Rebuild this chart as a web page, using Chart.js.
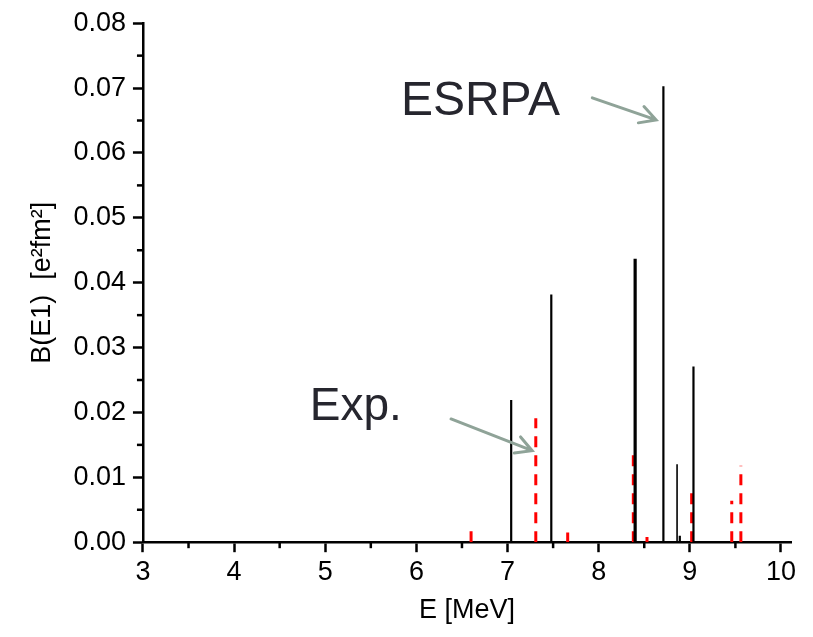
<!DOCTYPE html>
<html>
<head>
<meta charset="utf-8">
<script src="https://cdn.jsdelivr.net/npm/chart.js@4.4.0/dist/chart.umd.min.js"></script>
<style>
  html, body { margin: 0; padding: 0; background: #fff; }
  #wrap { width: 813px; height: 637px; }
</style>
</head>
<body>
<div id="wrap"><canvas id="myChart" width="813" height="637"></canvas></div>
<script>
// ESRPA sticks (black)
const esrpaE = [7.04, 7.48, 8.40, 8.71, 8.86, 8.89, 9.04];
const esrpaB = [0.0219, 0.0382, 0.0437, 0.0703, 0.0120, 0.0010, 0.0271];
// Exp. sticks (red dashed)
const expE = [6.60, 7.31, 7.66, 8.38, 8.53, 9.02, 9.46, 9.56];
const expB = [0.0027, 0.0191, 0.0015, 0.0141, 0.0008, 0.0077, 0.0064, 0.0118];
const xTicks = [3, 4, 5, 6, 7, 8, 9, 10];
const yTicks = [0, 0.01, 0.02, 0.03, 0.04, 0.05, 0.06, 0.07, 0.08];

const FONT = "'Liberation Sans', Arial, sans-serif";

// build stick lines: base -> top, then a gap
function sticks(es, bs) {
    var pts = [];
    es.forEach(function(e, i) {
        pts.push({x: e, y: 0});
        pts.push({x: e, y: bs[i]});
        pts.push({x: e, y: null});
    });
    return pts;
}

// minor ticks + annotations
const extras = {
    id: 'extras',
    afterDraw(chart) {
        const ctx = chart.ctx;
        const xs = chart.scales.x, ys = chart.scales.y;
        ctx.save();
        ctx.strokeStyle = '#000';
        ctx.lineWidth = 2.5;
        // minor ticks
        for (let v = 3.5; v < 10; v += 1) {
            const px = xs.getPixelForValue(v);
            ctx.beginPath();
            ctx.moveTo(px, ys.bottom);
            ctx.lineTo(px, ys.bottom + 6);
            ctx.stroke();
        }
        for (let v = 0.005; v < 0.08; v += 0.01) {
            const py = ys.getPixelForValue(v);
            ctx.beginPath();
            ctx.moveTo(xs.left, py);
            ctx.lineTo(xs.left - 6, py);
            ctx.stroke();
        }

        // labels
        ctx.fillStyle = '#26262e';
        ctx.font = '48px ' + FONT;
        ctx.textBaseline = 'alphabetic';
        ctx.textAlign = 'left';
        ctx.fillText('ESRPA', xs.getPixelForValue(5.83), ys.getPixelForValue(0.0658));
        ctx.font = '46px ' + FONT;
        ctx.fillText('Exp.', xs.getPixelForValue(4.83), ys.getPixelForValue(0.0188));

        function arrow(x1, y1, x2, y2) {
            const ax = xs.getPixelForValue(x1), ay = ys.getPixelForValue(y1);
            const bx = xs.getPixelForValue(x2), by = ys.getPixelForValue(y2);
            const ang = Math.atan2(by - ay, bx - ax);
            ctx.strokeStyle = '#8fa398';
            ctx.lineWidth = 3;
            ctx.lineCap = 'round';
            ctx.beginPath();
            ctx.moveTo(ax, ay);
            ctx.lineTo(bx, by);
            ctx.moveTo(bx - 18 * Math.cos(ang - 0.5), by - 18 * Math.sin(ang - 0.5));
            ctx.lineTo(bx, by);
            ctx.lineTo(bx - 18 * Math.cos(ang + 0.5), by - 18 * Math.sin(ang + 0.5));
            ctx.stroke();
        }
        arrow(7.93, 0.0685, 8.63, 0.0651);
        arrow(6.38, 0.0190, 7.27, 0.0141);
        ctx.restore();
    }
};

const data = {
    datasets: [{
        label: 'ESRPA',
        data: sticks(esrpaE, esrpaB),
        borderColor: '#000',
        borderWidth: 2.2,
        pointRadius: 0,
        spanGaps: false,
        segment: {
            borderWidth: ctx => {
                const e = ctx.p0.parsed.x;
                if (Math.abs(e - 8.40) < 0.01) return 3.2;
                if (Math.abs(e - 8.86) < 0.01) return 1.6;
                return 2.2;
            }
        }
    }, {
        label: 'Exp.',
        data: sticks(expE, expB),
        borderColor: '#ff0000',
        borderWidth: 3,
        borderDash: [11, 8],
        pointRadius: 0,
        spanGaps: false
    }]
};

const config = {
    type: 'line',
    data: data,
    options: {
        responsive: false,
        animation: false,
        layout: { padding: { left: 26, right: 22, top: 8, bottom: 10 } },
        plugins: { legend: { display: false }, tooltip: { enabled: false } },
        scales: {
            x: {
                type: 'linear',
                min: 3,
                max: 10.11,
                afterBuildTicks: axis => { axis.ticks = xTicks.map(v => ({value: v})); },
                ticks: {
                    color: '#000',
                    font: { family: FONT, size: 27 },
                    padding: 4,
                    maxRotation: 0,
                    callback: v => String(v)
                },
                grid: { drawOnChartArea: false, drawTicks: true, tickLength: 10, color: '#000', tickWidth: 2.5 },
                border: { display: true, color: '#000', width: 2.5 },
                title: { display: true, text: 'E [MeV]', color: '#000', font: { family: FONT, size: 27 }, padding: { top: 2, bottom: 0 } }
            },
            y: {
                min: 0,
                max: 0.08,
                afterBuildTicks: axis => { axis.ticks = yTicks.map(v => ({value: v})); },
                ticks: {
                    color: '#000',
                    font: { family: FONT, size: 27 },
                    padding: 7,
                    callback: v => v.toFixed(2)
                },
                grid: { drawOnChartArea: false, drawTicks: true, tickLength: 10, color: '#000', tickWidth: 2.5 },
                border: { display: true, color: '#000', width: 2.5 },
                title: { display: true, text: 'B(E1)  [e²fm²]', color: '#000', font: { family: FONT, size: 27 }, padding: { top: 0, bottom: 8 } }
            }
        }
    },
    plugins: [extras]
};

var myChartJS = new Chart(document.getElementById('myChart'), config);
</script>
</body>
</html>
